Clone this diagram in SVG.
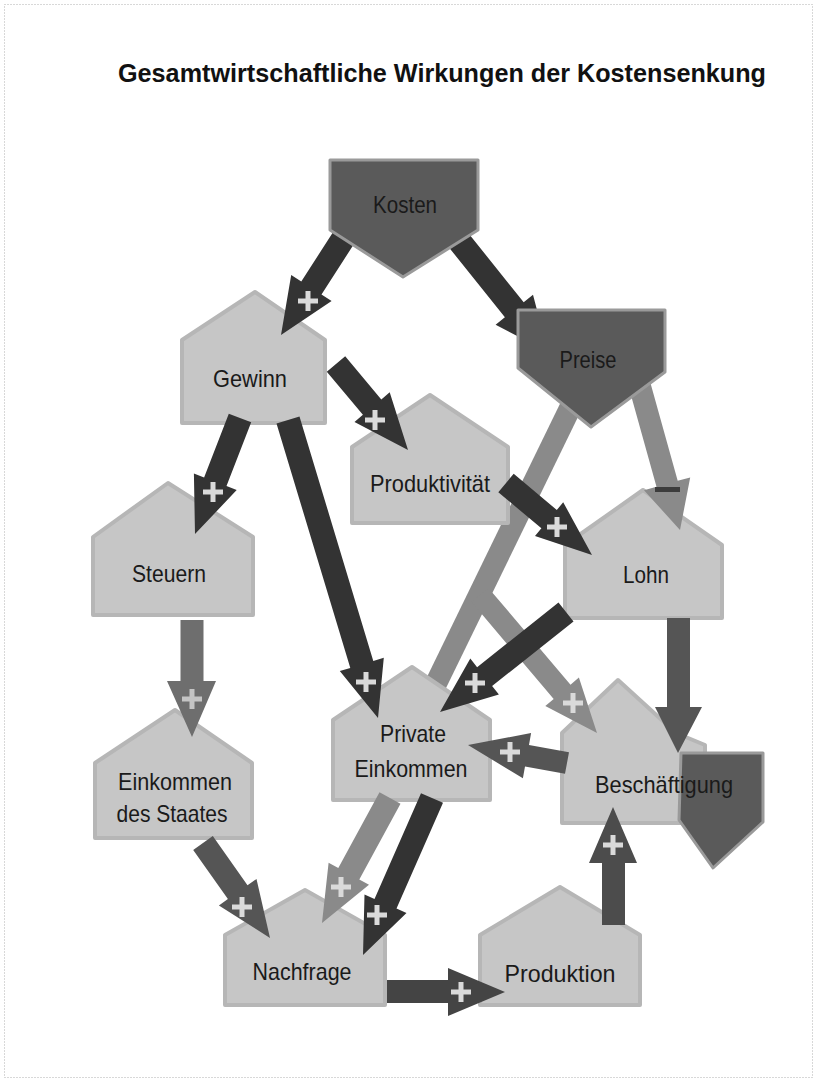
<svg xmlns="http://www.w3.org/2000/svg" xmlns:xlink="http://www.w3.org/1999/xlink" width="815" height="1081" viewBox="0 0 815 1081">
  <style>
    .house { fill: #c6c6c6; stroke: #b6b6b6; stroke-width: 4; stroke-linejoin: round; }
    .dark { fill: #5a5a5a; stroke: #9a9a9a; stroke-width: 3; stroke-linejoin: round; }
    .lbl { font-family: "Liberation Sans", Arial, sans-serif; font-size: 24px; fill: #1a1a1a; text-anchor: middle; }
    .title { font-family: "Liberation Sans", Arial, sans-serif; font-size: 26px; font-weight: bold; fill: #111; text-anchor: middle; }
    .a-dark { fill: #333333; }
    .a-mdark { fill: #555555; }
    .a-mid { fill: #6e6e6e; }
    .a-light { fill: #8a8a8a; }
  </style>
  <defs>
    <g id="plus">
      <rect x="-10" y="-2.5" width="20" height="5" fill="#dadada"/>
      <rect x="-2.5" y="-10" width="5" height="20" fill="#dadada"/>
    </g>
  </defs>
  <rect x="0" y="0" width="815" height="1081" fill="#ffffff"/>
  <rect x="4.5" y="4.5" width="808" height="1073" fill="none" stroke="#b0b0b0" stroke-width="1" stroke-dasharray="1 2"/>
  <text class="title" x="442" y="82" textLength="648" lengthAdjust="spacingAndGlyphs">Gesamtwirtschaftliche Wirkungen der Kostensenkung</text>

  <!-- connectors drawn beneath nodes -->
  <g id="connectors-under">
    <line x1="575" y1="398" x2="428" y2="700" stroke="#8a8a8a" stroke-width="22"/>
    <polygon class="a-dark" points="442.6,239.5 504.9,317.3 495.6,324.8 548,352 533,294.8 523.7,302.3 461.4,224.5"/>
  </g>

  <!-- light nodes -->
  <g id="node-gewinn"><path class="house" d="M182,423 L182,340 L255,292 L325,340 L325,423 Z"/><text class="lbl" x="250" y="387" textLength="74" lengthAdjust="spacingAndGlyphs">Gewinn</text></g>
  <g id="node-produktivitaet"><path class="house" d="M352,523 L352,447 L430,395 L508,447 L508,523 Z"/><text class="lbl" x="430" y="492" textLength="120" lengthAdjust="spacingAndGlyphs">Produktivität</text></g>
  <g id="node-steuern"><path class="house" d="M93,615 L93,537 L168,483 L253,537 L253,615 Z"/><text class="lbl" x="169" y="582" textLength="74" lengthAdjust="spacingAndGlyphs">Steuern</text></g>
  <g id="node-lohn"><path class="house" d="M565,618 L565,545 L643,490 L722,545 L722,618 Z"/><text class="lbl" x="646" y="583" textLength="46" lengthAdjust="spacingAndGlyphs">Lohn</text></g>
  <g id="node-private-einkommen"><path class="house" d="M333,800 L333,720 L412,667 L490,720 L490,800 Z"/><text class="lbl" x="413" y="742" textLength="66" lengthAdjust="spacingAndGlyphs">Private</text><text class="lbl" x="411" y="777" textLength="113" lengthAdjust="spacingAndGlyphs">Einkommen</text></g>
  <g id="node-beschaeftigung-bg"><path class="house" d="M562,823 L562,733 L618,680 L676,733 L705,745 L705,823 Z"/></g>
  <g id="node-einkommen-staat"><path class="house" d="M95,838 L95,763 L175,710 L252,763 L252,838 Z"/><text class="lbl" x="175" y="790" textLength="114" lengthAdjust="spacingAndGlyphs">Einkommen</text><text class="lbl" x="172" y="822" textLength="111" lengthAdjust="spacingAndGlyphs">des Staates</text></g>
  <g id="node-nachfrage"><path class="house" d="M225,1005 L225,935 L305,890 L385,935 L385,1005 Z"/><text class="lbl" x="302" y="980" textLength="99" lengthAdjust="spacingAndGlyphs">Nachfrage</text></g>
  <g id="node-produktion"><path class="house" d="M480,1005 L480,935 L560,887 L640,935 L640,1005 Z"/><text class="lbl" x="560" y="982" textLength="111" lengthAdjust="spacingAndGlyphs">Produktion</text></g>

  <!-- connectors -->
  <g id="connectors">
    <!-- Kosten -> Gewinn -->
    <polygon class="a-dark" points="339.9,221.5 301.3,281.5 291.2,275 281,335 331.6,301 321.5,294.5 360.1,234.5"/>
    <use xlink:href="#plus" x="308" y="301"/>
    <!-- Gewinn -> Produktivitaet -->
    <polygon class="a-dark" points="326.8,371.7 362.9,414.8 354.5,421.9 408,450 389.7,392.3 381.3,399.4 345.2,356.3"/>
    <use xlink:href="#plus" x="375" y="420"/>
    <!-- Gewinn -> Steuern -->
    <polygon class="a-dark" points="228.8,413.7 204.1,477.5 193.9,473.5 195,534 236.7,490.1 226.5,486.1 251.2,422.3"/>
    <use xlink:href="#plus" x="213" y="492"/>
    <!-- Gewinn -> Private Einkommen -->
    <polygon class="a-dark" points="276.5,423.5 350.3,667.9 339.8,671 378,718 383.8,657.8 373.3,660.9 299.5,416.5"/>
    <use xlink:href="#plus" x="366" y="682"/>
    <!-- Preise -> Beschaeftigung (branch) -->
    <polygon class="a-light" points="471.6,602.1 553.7,698.9 545.3,706 597,733 578.9,677.6 570.5,684.7 488.4,587.9"/>
    <use xlink:href="#plus" x="573" y="703"/>
    <!-- Produktivitaet -> Lohn -->
    <polygon class="a-dark" points="498.3,492.2 541.4,528.3 535,536 592,555 563.2,502.2 556.8,509.9 513.7,473.8"/>
    <use xlink:href="#plus" x="557" y="527"/>
    <!-- Preise -> Lohn -->
    <polygon class="a-light" points="623.4,368 656.5,486.8 644,490.2 680,530 690.2,477.4 677.7,480.8 644.6,362"/>
    <rect x="655" y="487" width="25" height="5" fill="#3c3c3c"/>
    <!-- Lohn -> Private Einkommen -->
    <polygon class="a-dark" points="558.5,602.6 477.1,667.2 470.3,658.6 440,712 498.9,694.6 492.1,686 573.5,621.4"/>
    <use xlink:href="#plus" x="475" y="683"/>
    <!-- Lohn -> Beschaeftigung -->
    <polygon class="a-mdark" points="667,618 667,707 655,707 678,753 702,707 690,707 690,618"/>
    <!-- Beschaeftigung -> Private Einkommen -->
    <polygon class="a-mdark" points="569,752.2 529,744.9 531.1,733.1 468,745 522.9,778.3 525,766.5 565,773.8"/>
    <use xlink:href="#plus" x="510" y="752"/>
    <!-- Steuern -> Einkommen des Staates -->
    <polygon class="a-mid" points="180.5,620 180.5,681 167,681 192,737 216,681 203.5,681 203.5,620"/>
    <use xlink:href="#plus" x="192" y="699" opacity="0.8"/>
    <!-- Einkommen des Staates -> Nachfrage -->
    <polygon class="a-mdark" points="193.2,849.9 227.9,899.1 218.9,905.5 270,938 256.5,878.9 247.5,885.3 212.8,836.1"/>
    <use xlink:href="#plus" x="242" y="907"/>
    <!-- Private Einkommen -> Nachfrage (light) -->
    <polygon class="a-light" points="379.5,792.3 338.3,868.1 328.6,862.8 322,923 369,884.8 359.3,879.5 400.5,803.7"/>
    <use xlink:href="#plus" x="341" y="887"/>
    <!-- Private Einkommen -> Nachfrage (dark) -->
    <polygon class="a-dark" points="421,793.2 374.5,898.9 364.5,894.5 363,955 406.5,912.9 396.5,908.5 443,802.8"/>
    <use xlink:href="#plus" x="377" y="915"/>
    <!-- Nachfrage -> Produktion -->
    <polygon class="a-dark" points="387,980 448,980 448,968 505,992 448,1016 448,1003 387,1003" style="fill:#444"/>
    <use xlink:href="#plus" x="461" y="992"/>
    <!-- Produktion -> Beschaeftigung -->
    <polygon class="a-mdark" points="602,925 602,863 589,863 613,807 637,863 625,863 625,925" style="fill:#4c4c4c"/>
    <use xlink:href="#plus" x="613" y="845"/>
  </g>

  <!-- dark nodes -->
  <g id="node-kosten"><path class="dark" d="M330,160 L478,160 L478,230 L403,277 L330,230 Z"/><text class="lbl" x="405" y="213" textLength="64" lengthAdjust="spacingAndGlyphs">Kosten</text></g>
  <g id="node-preise"><path class="dark" d="M518,310 L665,310 L665,372 L591,427 L518,368 Z"/><text class="lbl" x="588" y="368" textLength="57" lengthAdjust="spacingAndGlyphs">Preise</text></g>
  <g id="node-beschaeftigung"><path class="dark" d="M681,753 L763,753 L763,822 L713,868 L679,820 Z"/><text class="lbl" x="664" y="793" textLength="138" lengthAdjust="spacingAndGlyphs">Beschäftigung</text></g>
</svg>
